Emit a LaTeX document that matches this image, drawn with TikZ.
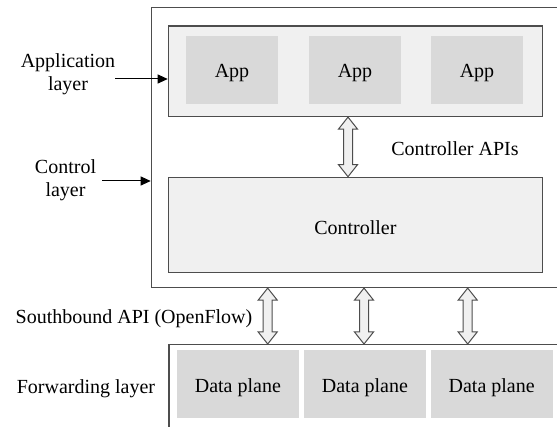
\documentclass[tikz,border=0pt]{standalone}
\usepackage{fontspec}
\setmainfont{Liberation Serif}
\usetikzlibrary{calc,arrows.meta}
\definecolor{edge}{HTML}{4D4D4D}
\definecolor{layerfill}{HTML}{F0F0F0}
\definecolor{boxfill}{HTML}{D9D9D9}
\newcommand\fatarrow[2]{%
  \draw[fatarr] let \p1=#1, \p2=#2 in
   (\x1,\y1) -- (\x1+9.5pt,\y1-12pt) -- (\x1+4.5pt,\y1-12pt) -- (\x1+4.5pt,\y2+12pt)
   -- (\x1+9.5pt,\y2+12pt) -- (\x1,\y2) -- (\x1-9.5pt,\y2+12pt) -- (\x1-4.5pt,\y2+12pt)
   -- (\x1-4.5pt,\y1-12pt) -- (\x1-9.5pt,\y1-12pt) -- cycle;}
\newcommand\lowtext[1]{\raisebox{-3pt}[\height][\depth]{#1}}
\begin{document}
\begin{tikzpicture}[x=1pt,y=-1pt,
  every node/.style={font=\fontsize{20}{23}\selectfont},
  frame/.style={draw=edge,line width=1.4pt,fill=white},
  layer/.style={draw=edge,line width=1.4pt,fill=layerfill,inner sep=0pt},
  appbox/.style={fill=boxfill,inner sep=0pt,minimum width=91.5pt,minimum height=68pt},
  databox/.style={fill=boxfill,inner sep=0pt,minimum width=122pt,minimum height=68pt},
  fatarr/.style={draw=edge,line width=1pt,fill=layerfill,line join=miter},
  pointer/.style={draw=black,line width=1pt,-{Triangle[length=10pt,width=9pt]}},
  lbl/.style={align=center,inner sep=0pt}]
\useasboundingbox (0,0) rectangle (557,427);
\clip (0,0) rectangle (557,427);
% outer control frame (extends past right edge)
\node[frame,anchor=north west,inner sep=0pt,minimum width=460pt,minimum height=280pt] (outer) at (150.7,6.7) {};
% application layer
\node[layer,anchor=north west,minimum width=374pt,minimum height=90.4pt] (applayer) at (167.7,25.3) {};
\node[appbox] (app1) at (232,70) {\lowtext{App}};
\node[appbox] (app2) at (355,70) {\lowtext{App}};
\node[appbox] (app3) at (477,70) {\lowtext{App}};
% controller
\node[layer,anchor=north west,minimum width=374pt,minimum height=95pt] (controller) at (167.7,176.7) {\lowtext{Controller}};
% forwarding layer frame
\node[frame,anchor=north west,inner sep=0pt,minimum width=420pt,minimum height=120pt] (fwd) at (168.3,344) {};
\node[databox] (dp1) at (237.9,384.2) {\lowtext{Data plane}};
\node[databox] (dp2) at (364.9,384.2) {\lowtext{Data plane}};
\node[databox] (dp3) at (491.7,384.2) {\lowtext{Data plane}};
% labels
\node[lbl] (applbl) at (68,74.5) {Application\\layer};
\node[lbl] (ctrllbl) at (65.5,180.5) {Control\\layer};
\node[lbl] (apislbl) at (455,149) {Controller APIs};
\node[lbl] (sblbl) at (134,319) {Southbound API (OpenFlow)};
\node[lbl] (fwdlbl) at (86,389) {Forwarding layer};
% pointer arrows
\coordinate (p1) at (115,79);
\coordinate (p2) at (102,181);
\draw[pointer] (p1) -- (p1 -| applayer.west);
\draw[pointer] (p2) -- (p2 -| outer.west);
% fat double arrows
\coordinate (c0) at (348,0);
\coordinate (c1) at (267.7,0);
\coordinate (c2) at (364,0);
\coordinate (c3) at (467.7,0);
\fatarrow{(c0 |- applayer.south)}{(c0 |- controller.north)}
\fatarrow{(c1 |- outer.south)}{(c1 |- fwd.north)}
\fatarrow{(c2 |- outer.south)}{(c2 |- fwd.north)}
\fatarrow{(c3 |- outer.south)}{(c3 |- fwd.north)}
\end{tikzpicture}
\end{document}
